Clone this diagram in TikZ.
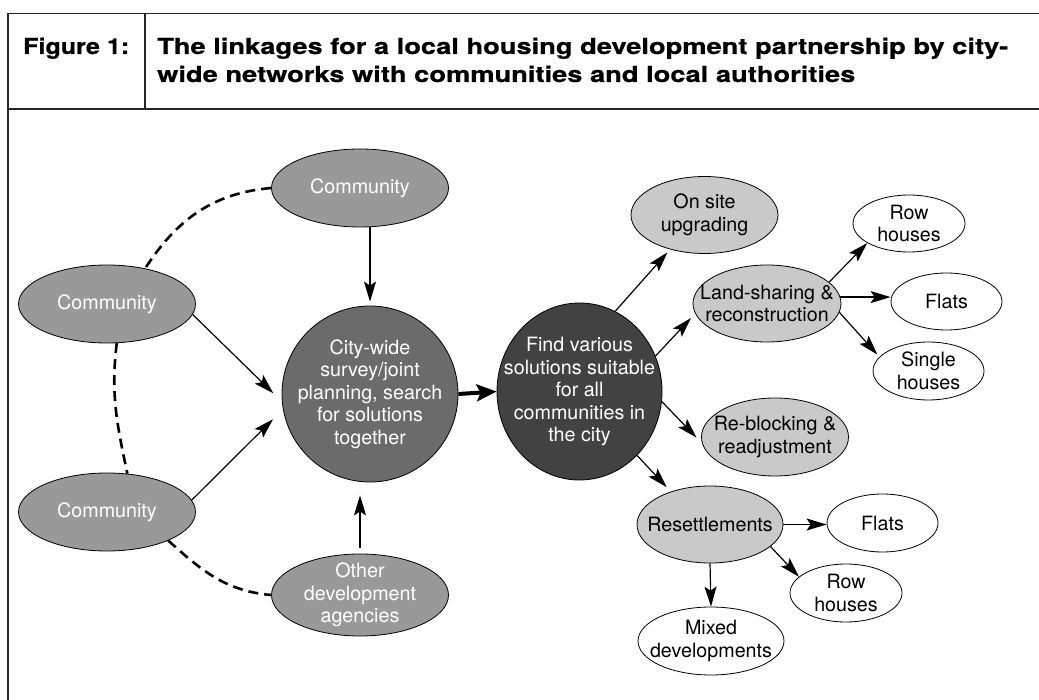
\documentclass[tikz,border=0pt]{standalone}
\usepackage{fontspec}
\setmainfont{TeX Gyre Heros}
\newfontfamily\hdfont[FakeStretch=1.24, FakeBold=0.6]{TeX Gyre Heros}
\newfontfamily\figfont[FakeStretch=1.14, FakeBold=0.6]{TeX Gyre Heros}
\usetikzlibrary{shapes.geometric,arrows.meta}
\definecolor{commgray}{gray}{0.60}
\definecolor{citygray}{gray}{0.42}
\definecolor{findgray}{gray}{0.26}
\definecolor{optgray}{gray}{0.79}
\definecolor{framegray}{gray}{0.15}
\tikzset{
  base/.style={ellipse, draw=black, line width=0.8pt, inner sep=-30pt, align=center,
    font=\fontsize{19.7}{22.5}\selectfont},
  comm/.style={base, fill=commgray, text=white, minimum width=177pt, minimum height=78pt},
  citynode/.style={base, circle, fill=citygray, text=white, minimum size=176pt},
  findnode/.style={base, fill=findgray, text=white, minimum width=165pt, minimum height=177pt},
  opt/.style={base, fill=optgray, text=black, minimum width=147pt, minimum height=77pt},
  leaf/.style={base, fill=white, text=black, minimum width=111pt, minimum height=58pt},
  heading/.style={anchor=base west, inner sep=0pt, text=black,
    font=\hdfont\bfseries\fontsize{22}{28}\selectfont},
  figlabel/.style={anchor=base west, inner sep=0pt, text=black,
    font=\figfont\bfseries\fontsize{22}{28}\selectfont},
  framerule/.style={draw=framegray, line width=1.6pt},
  dashline/.style={line width=2.6pt, dash pattern=on 10pt off 6pt},
  arr/.style={line width=1.2pt, -{Stealth[length=20pt, width=12pt, inset=4pt]}},
  bigarr/.style={line width=4pt, -{Stealth[length=20pt, width=17pt, inset=4pt]}},
}
\begin{document}
\begin{tikzpicture}[x=1pt, y=1pt]
\useasboundingbox (0,0) rectangle (1039,-700);
% frame
\draw[framerule] (1039,-13.5) -- (8,-13.5) -- (8,-700);
\draw[framerule] (8,-109) -- (1039,-109);
\draw[draw=framegray, line width=1.1pt] (145,-13.5) -- (145,-109);
% heading
\node[figlabel] (fig) at (23,-54) {Figure 1:};
\node[heading] (head1) at (157,-54) {The linkages for a local housing development partnership by city-};
\node[heading] (head2) at (157,-82) {wide networks with communities and local authorities};
% left part
\node[comm] (ctop) at (360,-188) {Community};
\node[comm] (cleft) at (107,-304) {Community};
\node[comm] (cbot) at (107,-512) {Community};
\node[comm, minimum height=82pt] (other) at (360,-595) {Other\\development\\agencies};
\node[citynode] (city) at (370,-394) {City-wide\\survey/joint\\planning, search\\for solutions\\together};
\node[findnode] (find) at (579.5,-391.5) {Find various\\solutions suitable\\for all\\communities in\\the city};
% options
\node[opt] (onsite) at (704.5,-215) {On site\\upgrading};
\node[opt, minimum width=148pt] (land) at (767,-303.5) {Land-sharing \&\\reconstruction};
\node[opt, minimum height=78pt] (reblock) at (775,-437) {Re-blocking \&\\readjustment};
\node[opt, minimum width=146pt] (resettle) at (710,-524.5) {Resettlements};
% leaves
\node[leaf, minimum width=112pt, minimum height=57pt] (row1) at (909,-223.5) {Row\\houses};
\node[leaf, minimum height=57pt] (flats1) at (946.5,-301.5) {Flats};
\node[leaf] (single) at (928.5,-371) {Single\\houses};
\node[leaf] (flats2) at (882.5,-523) {Flats};
\node[leaf, minimum width=112pt] (row2) at (846,-593) {Row\\houses};
\node[leaf, minimum width=146pt, minimum height=68pt] (mixed) at (711,-641) {Mixed\\developments};
% dashed links
\draw[dashline] (ctop.west) to[out=185, in=57] (cleft.43);
\draw[dashline] (cleft.-76) to[out=263, in=102] (cbot.62);
\draw[dashline] (cbot.-25) to[out=-42, in=175] (other.west);
% arrows into city
\draw[arr, shorten >=4pt] (city.north |- ctop.south) -- (city.north);
\draw[arr, shorten >=12pt] (cleft.-7) -- (city.185);
\draw[arr, shorten >=14pt] (cbot.8) -- (city.190);
\draw[arr, shorten <=6pt, shorten >=13pt] (other.north) -- (other.north |- city.south);
% city to find
\draw[bigarr] (city.east) -- (find.west);
% find to options
\draw[arr, shorten >=4pt] (find.66) -- (onsite.225);
\draw[arr, shorten >=6pt] (find.25) -- (land.188);
\draw[arr, shorten >=8pt] (find.-7) -- (reblock.185);
\draw[arr, shorten >=6pt] (find.-48) -- (resettle.140);
% land-sharing to leaves
\draw[arr] (land.19) -- (row1.205);
\draw[arr] (land.5) -- (land.5 -| flats1.west);
\draw[arr, shorten >=3pt] (land.-7) -- (single.164);
% resettlements to leaves
\draw[arr] (resettle.east) -- (resettle.east -| flats2.west);
\draw[arr] (resettle.-20) -- (row2.161);
\draw[arr] (resettle.south) -- (mixed.north);
\end{tikzpicture}
\end{document}
